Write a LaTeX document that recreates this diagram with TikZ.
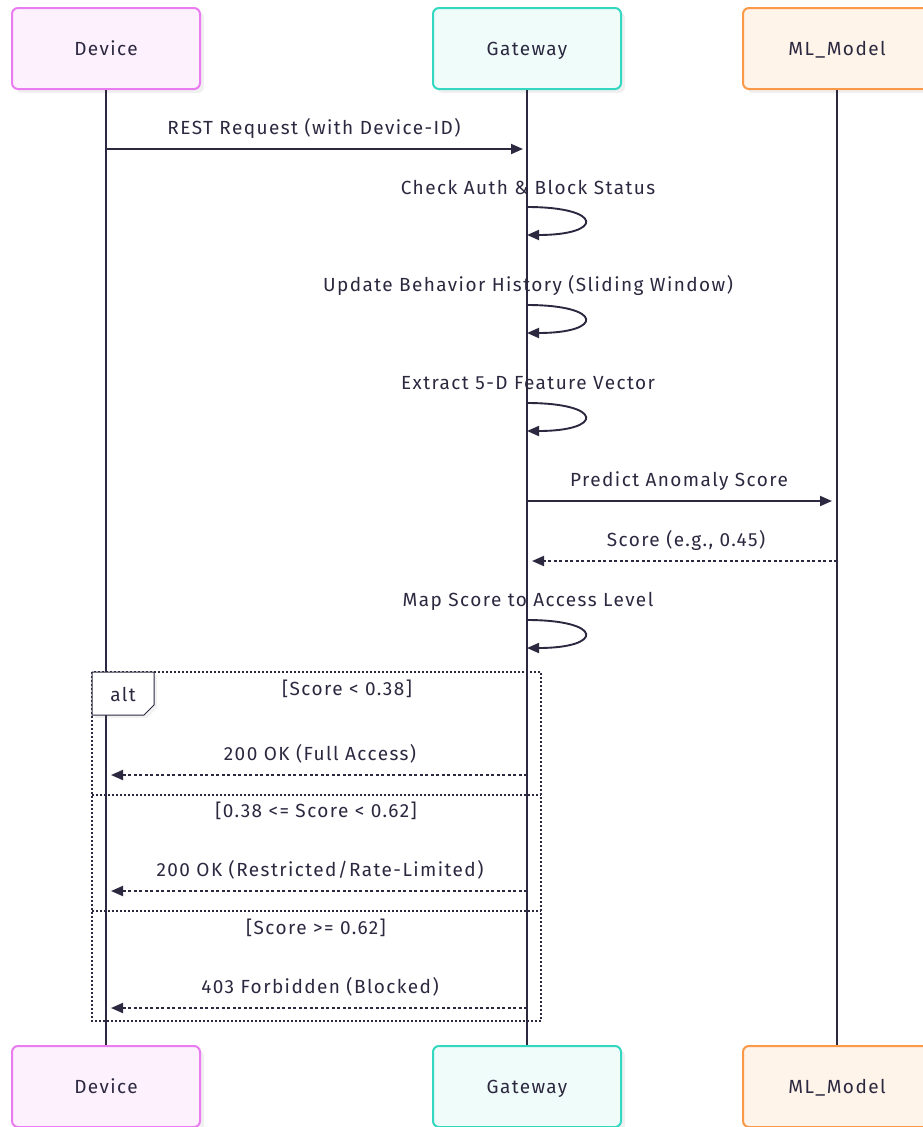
\documentclass[tikz,border=0pt]{standalone}
\usepackage{fontspec}
\setmainfont{Fira Sans}[LetterSpace=7.5]
\usetikzlibrary{positioning,arrows.meta,shadows}

\definecolor{ink}{HTML}{2B2840}
\definecolor{devline}{HTML}{E97CF0}
\definecolor{devfill}{HTML}{FDF1FD}
\definecolor{gwline}{HTML}{34D7C0}
\definecolor{gwfill}{HTML}{F0FCFA}
\definecolor{mlline}{HTML}{FA9A48}
\definecolor{mlfill}{HTML}{FFF4EA}

\begin{document}
\begin{tikzpicture}[
  x=1pt, y=-1pt,
  actor/.style={rectangle, rounded corners=6pt, line width=2pt, minimum width=188pt, minimum height=81pt, text=ink, font=\fontsize{19}{22}\selectfont, text height=16pt, text depth=1.5pt, drop shadow={opacity=0.12, shadow xshift=4pt, shadow yshift=-4pt}},
  devbox/.style={actor, draw=devline, fill=devfill},
  gwbox/.style={actor, draw=gwline, fill=gwfill},
  mlbox/.style={actor, draw=mlline, fill=mlfill},
  life/.style={draw=ink, line width=1.9pt},
  msg/.style={draw=ink, line width=1.9pt, -{Triangle[length=12pt,width=10pt]}},
  reply/.style={msg, dash pattern=on 3pt off 2.5pt},
  frame/.style={draw=ink, line width=1.6pt, dash pattern=on 2pt off 2pt},
  lbl/.style={text=ink, font=\fontsize{19}{22}\selectfont, text height=16pt, text depth=1.5pt, inner sep=0pt},
]
\useasboundingbox (0,0) rectangle (923,1127);

% Participants
\node[devbox] (dev) at (106,48.5) {Device};
\node[gwbox] (gw) at (527,48.5) {Gateway};
\node[mlbox] (ml) at (837,48.5) {ML\_Model};
\node[devbox] (devB) at (106,1086.5) {Device};
\node[gwbox] (gwB) at (527,1086.5) {Gateway};
\node[mlbox] (mlB) at (837,1086.5) {ML\_Model};

% Lifelines
\draw[life] (dev) -- (devB);
\draw[life] (gw) -- (gwB);
\draw[life] (ml) -- (mlB);

% Message ends
\coordinate (d1) at (106,149);  \coordinate (g1) at (523,149);
\coordinate (g2a) at (527,207); \coordinate (g2b) at (527,235);
\coordinate (g3a) at (527,305); \coordinate (g3b) at (527,333);
\coordinate (g4a) at (527,403); \coordinate (g4b) at (527,431);
\coordinate (g5) at (527,501);  \coordinate (m5) at (832,501);
\coordinate (m6) at (837,561);  \coordinate (g6) at (532,561);
\coordinate (g7a) at (527,620); \coordinate (g7b) at (527,648);
\coordinate (g8) at (527,775);  \coordinate (d8) at (111,775);
\coordinate (g9) at (527,891);  \coordinate (d9) at (111,891);
\coordinate (g10) at (527,1008); \coordinate (d10) at (111,1008);

% Messages
\draw[msg] (d1) -- (g1);
\node[lbl] (t1) at (314,127) {REST Request (with Device-ID)};
\draw[msg] (g2a) .. controls (604,207) and (604,235) .. (g2b);
\node[lbl] (t2) at (528,187) {Check Auth \& Block Status};
\draw[msg] (g3a) .. controls (604,305) and (604,333) .. (g3b);
\node[lbl] (t3) at (528,284) {Update Behavior History (Sliding Window)};
\draw[msg] (g4a) .. controls (604,403) and (604,431) .. (g4b);
\node[lbl] (t4) at (528,382) {Extract 5-D Feature Vector};
\draw[msg] (g5) -- (m5);
\node[lbl] (t5) at (679,479) {Predict Anomaly Score};
\draw[reply] (m6) -- (g6);
\node[lbl] (t6) at (686,539) {Score (e.g., 0.45)};
\draw[msg] (g7a) .. controls (604,620) and (604,648) .. (g7b);
\node[lbl] (t7) at (528,599) {Map Score to Access Level};

% alt frame
\draw[frame] (92,672) rectangle (541,1021);
\draw[frame] (92,795) -- (541,795);
\draw[frame] (92,911) -- (541,911);
\draw[draw=ink, line width=1pt, fill=white, drop shadow={opacity=0.1, shadow xshift=3pt, shadow yshift=-3pt}]
  (92,672) -- (154,672) -- (154,705) -- (144,715) -- (92,715) -- cycle;
\node[lbl] (alt) at (123,694) {alt};
\node[lbl] (c1) at (347,688) {[Score < 0.38]};
\node[lbl] (c2) at (316,810) {[0.38 <= Score < 0.62]};
\node[lbl] (c3) at (316,927) {[Score >= 0.62]};

% Replies
\draw[reply] (g8) -- (d8);
\node[lbl] (t8) at (320,753) {200 OK (Full Access)};
\draw[reply] (g9) -- (d9);
\node[lbl] (t9) at (320,869) {200 OK (Restricted/Rate-Limited)};
\draw[reply] (g10) -- (d10);
\node[lbl] (t10) at (320,986) {403 Forbidden (Blocked)};

\end{tikzpicture}
\end{document}
